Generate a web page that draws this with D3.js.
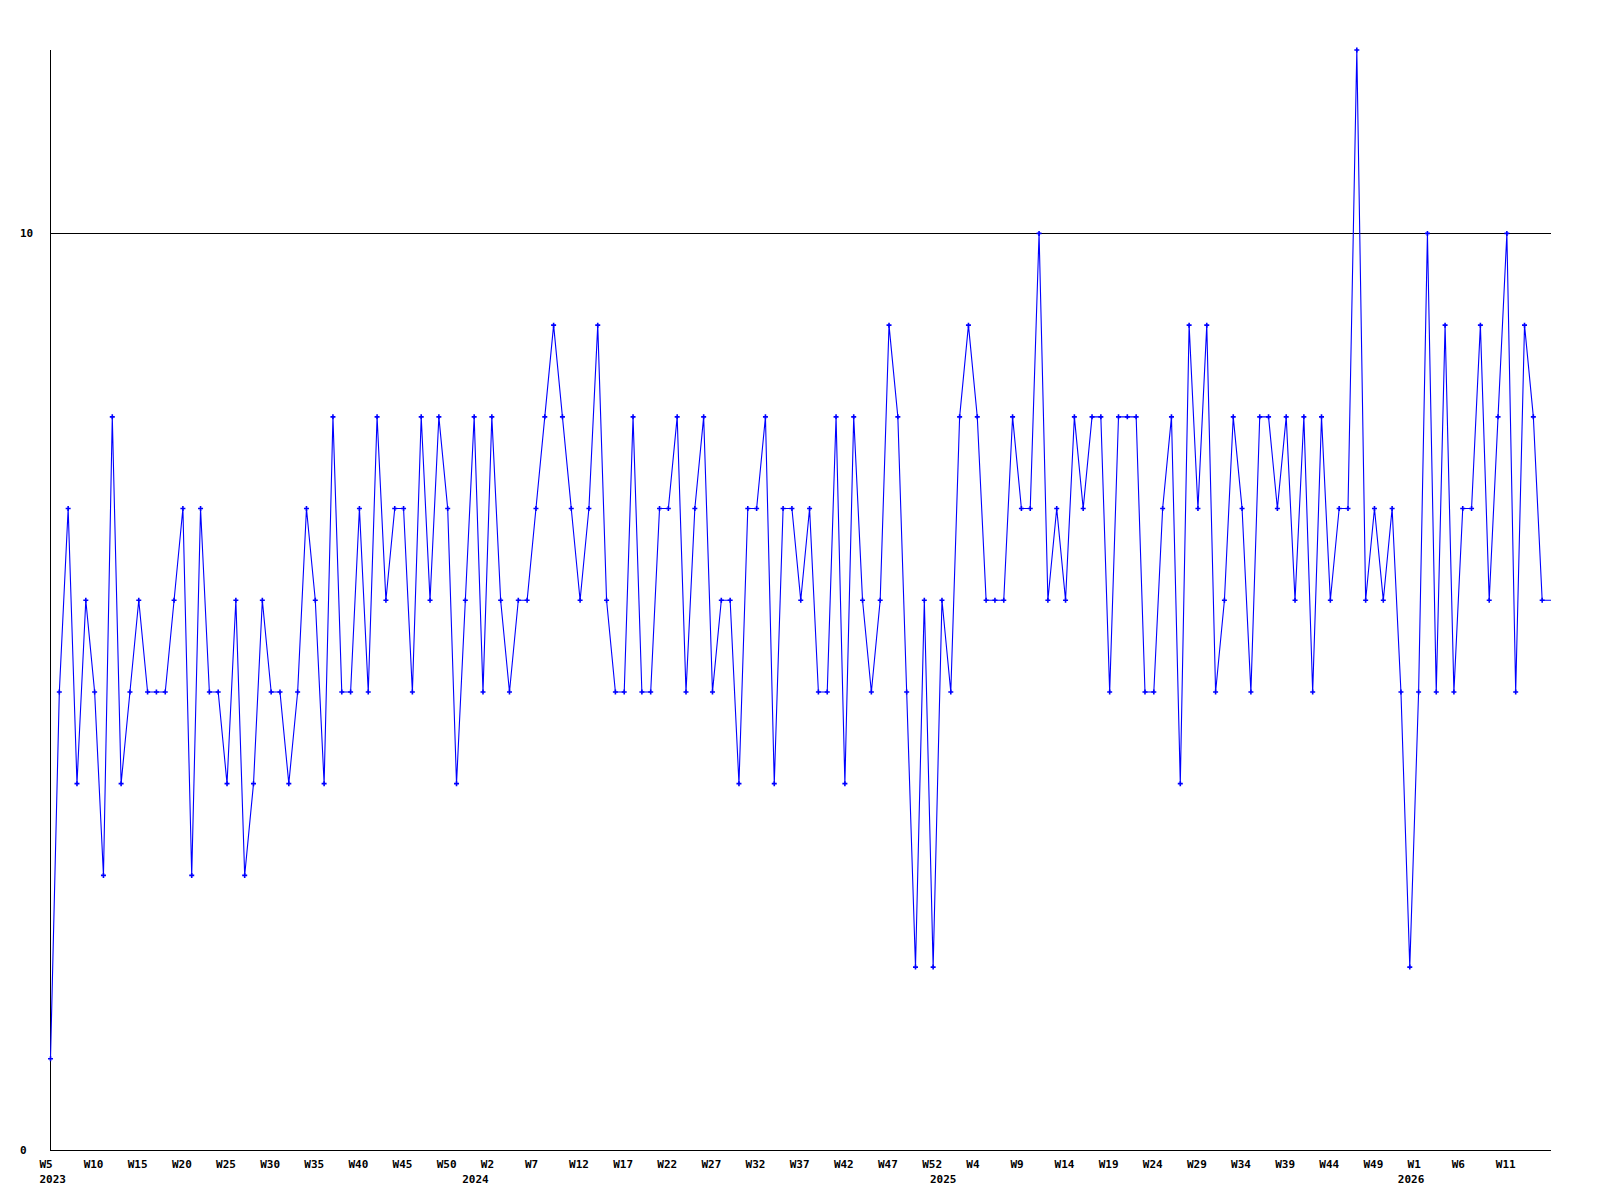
<!DOCTYPE html>
<html>
<head>
<meta charset="utf-8">
<script src="https://cdn.jsdelivr.net/npm/d3@7"></script>
<style>
  html, body { margin: 0; padding: 0; background: #ffffff; }
  svg { display: block; }
  text { font-family: "DejaVu Sans Mono", "Liberation Mono", monospace; font-weight: bold; font-size: 11px; fill: #000; }
</style>
</head>
<body>
<svg id="chart" width="1600" height="1200"></svg>
<script>
// Weekly values, first point = W5 2023; the last point is the current (incomplete) week
const values = [
  1, 5, 7, 4, 6, 5, 3, 8, 4, 5,
  6, 5, 5, 5, 6, 7, 3, 7, 5, 5,
  4, 6, 3, 4, 6, 5, 5, 4, 5, 7,
  6, 4, 8, 5, 5, 7, 5, 8, 6, 7,
  7, 5, 8, 6, 8, 7, 4, 6, 8, 5,
  8, 6, 5, 6, 6, 7, 8, 9, 8, 7,
  6, 7, 9, 6, 5, 5, 8, 5, 5, 7,
  7, 8, 5, 7, 8, 5, 6, 6, 4, 7,
  7, 8, 4, 7, 7, 6, 7, 5, 5, 8,
  4, 8, 6, 5, 6, 9, 8, 5, 2, 6,
  2, 6, 5, 8, 9, 8, 6, 6, 6, 8,
  7, 7, 10, 6, 7, 6, 8, 7, 8, 8,
  5, 8, 8, 8, 5, 5, 7, 8, 4, 9,
  7, 9, 5, 6, 8, 7, 5, 8, 8, 7,
  8, 6, 8, 5, 8, 6, 7, 7, 12, 6,
  7, 6, 7, 5, 2, 5, 10, 5, 9, 5,
  7, 7, 9, 6, 8, 10, 5, 9, 8, 6,
  6
];
// Tick labels shown every 5 weeks, starting at the first point
const tickLabels = [
  "W5", "W10", "W15", "W20", "W25", "W30", "W35", "W40", "W45", "W50",
  "W2", "W7", "W12", "W17", "W22", "W27", "W32", "W37", "W42", "W47", "W52",
  "W4", "W9", "W14", "W19", "W24", "W29", "W34", "W39", "W44", "W49",
  "W1", "W6", "W11"
];
const tickStep = 5;
// Year labels and the week index where each year begins
const years = ["2023", "2024", "2025", "2026"];
const yearStartIndex = [0, 48, 101, 154];
const yTicks = [0, 10];
const yMax = 12;

const svg = d3.select("#chart");
const mLeft = 50.5, mRight = 1551, mTop = 50, mBottom = 1150.5;

const x = d3.scaleLinear().domain([0, values.length - 1]).range([mLeft, mRight]);
const y = d3.scaleLinear().domain([0, yMax]).range([mBottom, mTop]);

// Horizontal reference line(s)
svg.append("g").selectAll("line").data(yTicks.filter(d => d > 0)).join("line")
  .attr("x1", mLeft).attr("x2", mRight)
  .attr("y1", d => Math.round(y(d)) + 0.5).attr("y2", d => Math.round(y(d)) + 0.5)
  .attr("stroke", "#000").attr("stroke-width", 1).attr("shape-rendering", "crispEdges");

// Axes lines
svg.append("line").attr("x1", mLeft).attr("x2", mLeft).attr("y1", mTop).attr("y2", mBottom)
  .attr("stroke", "#000").attr("shape-rendering", "crispEdges");
svg.append("line").attr("x1", mLeft).attr("x2", mRight).attr("y1", mBottom).attr("y2", mBottom)
  .attr("stroke", "#000").attr("shape-rendering", "crispEdges");

// Y labels
svg.append("g").selectAll("text").data(yTicks).join("text")
  .attr("x", 20).attr("y", d => y(d)).attr("dy", "0.35em")
  .attr("text-anchor", "start").text(d => d);

// X week labels
svg.append("g").selectAll("text").data(tickLabels).join("text")
  .attr("x", (d, i) => x(i * tickStep) - 11)
  .attr("y", 1167.5)
  .attr("text-anchor", "start").text(d => d);

// Year labels
svg.append("g").selectAll("text").data(years).join("text")
  .attr("x", (d, i) => x(yearStartIndex[i]) - (i === 0 ? 11 : 12))
  .attr("y", 1182.5)
  .attr("text-anchor", "start").text(d => d);

// Data line
const line = d3.line().x((d, i) => x(i)).y(d => y(d));
svg.append("path").datum(values)
  .attr("d", line)
  .attr("fill", "none").attr("stroke", "#0000ff").attr("stroke-width", 1.1);

// Markers (all completed weeks)
svg.append("g").selectAll("path").data(values.slice(0, values.length - 1)).join("path")
  .attr("transform", (d, i) => `translate(${x(i)},${y(d)})`)
  .attr("d", "M-2.5,0H2.5M0,-2.5V2.5")
  .attr("stroke", "#0000ff").attr("stroke-width", 1.6).attr("fill", "none");
</script>
</body>
</html>
